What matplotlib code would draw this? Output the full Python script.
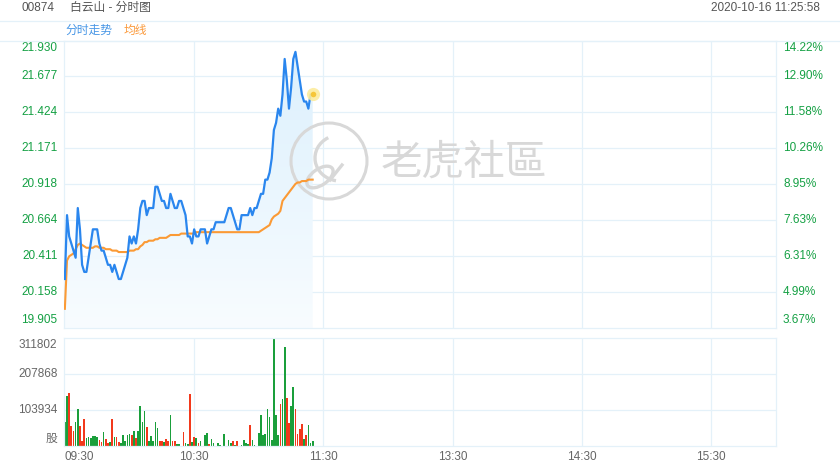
import matplotlib
matplotlib.use("Agg")
import matplotlib.pyplot as plt
import numpy as np
from matplotlib.lines import Line2D
from matplotlib.patches import Circle, Arc, Ellipse
from matplotlib.colors import LinearSegmentedColormap
from matplotlib import transforms

plt.rcParams['font.family'] = ['Liberation Sans', 'Noto Sans CJK SC', 'DejaVu Sans']

# header / labels
code = "00874"
title = "白云山 - 分时图"
stamp = "2020-10-16 11:25:58"
legend_items = ["分时走势", "均线"]

# price axis levels and labels
price_levels = [19.905, 20.158, 20.411, 20.664, 20.918, 21.171, 21.424, 21.677, 21.930]
price_labels = ["19.905", "20.158", "20.411", "20.664", "20.918", "21.171", "21.424", "21.677", "21.930"]
pct_labels = ["3.67%", "4.99%", "6.31%", "7.63%", "8.95%", "10.26%", "11.58%", "12.90%", "14.22%"]

vol_levels = [0, 103934, 207868, 311802]
vol_labels = ["股", "103934", "207868", "311802"]

time_ticks = [0, 60, 120, 180, 240, 300]
time_labels = ["09:30", "10:30", "11:30", "13:30", "14:30", "15:30"]
n_minutes = 330

# minute prices 09:30 .. 11:25
price = [20.25, 20.70, 20.55, 20.50, 20.45, 20.40, 20.75, 20.60, 20.35, 20.30,
         20.30, 20.40, 20.50, 20.60, 20.60, 20.60, 20.50, 20.45, 20.45, 20.40,
         20.35, 20.35, 20.30, 20.35, 20.30, 20.25, 20.25, 20.30, 20.35, 20.40,
         20.55, 20.50, 20.55, 20.50, 20.60, 20.75, 20.80, 20.80, 20.70, 20.75,
         20.75, 20.75, 20.90, 20.90, 20.85, 20.80, 20.80, 20.75, 20.75, 20.85,
         20.80, 20.75, 20.75, 20.80, 20.80, 20.75, 20.70, 20.55, 20.55, 20.50,
         20.60, 20.55, 20.55, 20.60, 20.60, 20.60, 20.50, 20.55, 20.60, 20.60,
         20.65, 20.65, 20.65, 20.65, 20.65, 20.70, 20.75, 20.75, 20.70, 20.65,
         20.60, 20.60, 20.70, 20.70, 20.70, 20.70, 20.75, 20.70, 20.75, 20.75,
         20.80, 20.85, 20.85, 20.95, 20.95, 21.00, 21.10, 21.30, 21.35, 21.45,
         21.40, 21.55, 21.80, 21.65, 21.45, 21.60, 21.80, 21.85, 21.75, 21.65,
         21.55, 21.50, 21.50, 21.45, 21.55, 21.55]

avg_price = [20.04, 20.38, 20.41, 20.42, 20.43, 20.46, 20.49, 20.50, 20.49, 20.48,
             20.47, 20.47, 20.47, 20.47, 20.48, 20.48, 20.47, 20.47, 20.47, 20.46,
             20.46, 20.46, 20.45, 20.45, 20.45, 20.44, 20.44, 20.44, 20.44, 20.44,
             20.45, 20.45, 20.45, 20.46, 20.46, 20.48, 20.49, 20.51, 20.51, 20.52,
             20.52, 20.52, 20.53, 20.53, 20.54, 20.54, 20.54, 20.54, 20.55, 20.56,
             20.56, 20.56, 20.56, 20.56, 20.57, 20.57, 20.57, 20.57, 20.57, 20.57,
             20.57, 20.58, 20.58, 20.58, 20.58, 20.58, 20.58, 20.58, 20.58, 20.58,
             20.58, 20.58, 20.58, 20.58, 20.58, 20.58, 20.58, 20.58, 20.58, 20.58,
             20.58, 20.58, 20.58, 20.58, 20.58, 20.58, 20.58, 20.58, 20.58, 20.58,
             20.58, 20.59, 20.60, 20.61, 20.62, 20.63, 20.67, 20.69, 20.70, 20.71,
             20.73, 20.80, 20.82, 20.84, 20.86, 20.88, 20.90, 20.92, 20.93, 20.93,
             20.94, 20.94, 20.94, 20.95, 20.95, 20.95]

volume = [68000, 144000, 152000, 58000, 42000, 68000, 106000, 58000, 15000, 77000,
          24000, 27000, 22000, 29000, 30000, 27000, 17000, 12500, 41000, 19000,
          10000, 11500, 77000, 27000, 25000, 12500, 9000, 32000, 14000, 32000,
          35000, 31000, 42000, 24000, 42000, 116000, 70000, 101000, 54000, 15000,
          29000, 15000, 70000, 51000, 15000, 15000, 11500, 19000, 15000, 89000,
          14000, 14000, 6000, 6000, 0, 39000, 10000, 5000, 150000, 11600,
          25000, 23000, 7700, 13500, 0, 31000, 37700, 5800, 21000, 8700,
          0, 8700, 2900, 0, 35800, 0, 18400, 8700, 13500, 3900,
          13500, 0, 2000, 18400, 8700, 5800, 60000, 18400, 3900, 0,
          37700, 89000, 32000, 35000, 106500, 83000, 18400, 311802, 89000, 32000,
          121000, 135000, 285000, 139000, 66000, 115000, 171000, 108000, 36000, 48000,
          64000, 21000, 31000, 62000, 8700, 15500]

# G = up (green), R = down (red)
vol_side = ("GGRRRGGRRR" "GGGGGGRRGR" "RGRGRRGGGG" "GRGRGGGGRG" "GGGGRRGRRG"
            "RRGGGRGGRG" "RGRGGGGRGG" "GGGGGGGGRG" "RGGGGGRGGG" "GGGGGGGGGG"
            "RGGRRGGRRR" "RGRGGG")

W, H = 840, 470
fig = plt.figure(figsize=(W / 100, H / 100), dpi=100)
fig.patch.set_facecolor("white")


def fx(px):
    return px / W


def fy(py):
    return 1 - py / H


grid_c = "#e4f1f9"
green_txt = "#14a043"
gray_txt = "#666666"

ax = fig.add_axes([fx(64), fy(328), fx(776) - fx(64), fy(40.5) - fy(328)])
axv = fig.add_axes([fx(64), fy(446), fx(776) - fx(64), fy(338) - fy(446)])

for a in (ax, axv):
    a.set_xlim(-0.4, n_minutes)
    a.set_xticks([])
    a.set_yticks([])
    for s in a.spines.values():
        s.set_color(grid_c)
        s.set_linewidth(0.9)
    for t in time_ticks[1:]:
        a.axvline(t, color=grid_c, lw=0.9, zorder=0)

ax.set_ylim(price_levels[0], price_levels[-1])
axv.set_ylim(vol_levels[0], vol_levels[-1])
for lv in price_levels[1:-1]:
    ax.axhline(lv, color=grid_c, lw=0.9, zorder=0)
for lv in vol_levels[1:-1]:
    axv.axhline(lv, color=grid_c, lw=0.9, zorder=0)

x = np.arange(len(price))

# gradient fill under the price line
poly = ax.fill_between(x, price, price_levels[0], color="none", lw=0)
cmap = LinearSegmentedColormap.from_list("fill", ["#f8fcff", "#dcf0fd"])
grad = np.linspace(0, 1, 256).reshape(-1, 1)
im = ax.imshow(grad, cmap=cmap, aspect="auto", origin="lower",
               extent=[0, len(price) - 1, price_levels[0], max(price)], zorder=1)
im.set_clip_path(poly.get_paths()[0], transform=ax.transData)
ax.set_xlim(-0.4, n_minutes)
ax.set_ylim(price_levels[0], price_levels[-1])

# watermark
wm = "#d8d8d8"
dt = fig.dpi_scale_trans
ax.add_patch(Circle((3.29, 3.09), 0.38, transform=dt, fill=False,
                    ec=wm, lw=2.2, clip_on=False, zorder=1.5))
ax.add_patch(Arc((3.40, 3.12), 0.50, 0.46, theta1=120, theta2=260, transform=dt,
                 ec=wm, lw=2.4, clip_on=False, zorder=1.5))
ax.add_patch(Ellipse((3.20, 2.93), 0.30, 0.16, angle=35, transform=dt, fill=False,
                     ec=wm, lw=2.4, clip_on=False, zorder=1.5))
ax.add_line(Line2D([3.30, 3.42], [2.90, 3.05], transform=dt, color=wm, lw=2.4, zorder=1.5))
ax.text(4.64, 3.07, "老虎社區", transform=dt, fontsize=30, color=wm,
        family=["Noto Sans CJK TC"], ha="center", va="center", zorder=1.5, clip_on=False)

ax.plot(x, avg_price, color="#fb9a35", lw=1.5, zorder=3, solid_joinstyle="round")
ax.plot(x, price, color="#2a86ee", lw=1.6, zorder=4, solid_joinstyle="round")
ax.scatter([x[-1]], [price[-1]], s=90, color="#fcec9c", alpha=0.9, zorder=5, lw=0)
ax.scatter([x[-1]], [price[-1]], s=16, color="#f6c638", zorder=6, lw=0)

# volume bars
bar_colors = ["#1a9f3b" if c == "G" else "#f2391c" for c in vol_side]
axv.bar(x, volume, width=0.78, color=bar_colors, lw=0, zorder=2)

# axis labels
lt = transforms.blended_transform_factory(fig.transFigure, ax.transData)
n = len(price_levels)
for i, (lv, a, b) in enumerate(zip(price_levels, price_labels, pct_labels)):
    va = "bottom" if i == 0 else ("top" if i == n - 1 else "center")
    off = 0.012 if i == 0 else (-0.012 if i == n - 1 else 0)
    ax.text(fx(57.5), lv + off, a, transform=lt, ha="right", va=va, fontsize=8.5, color=green_txt)
    ax.text(fx(783), lv + off, b, transform=lt, ha="left", va=va, fontsize=8.5, color=green_txt)

vt = transforms.blended_transform_factory(fig.transFigure, axv.transData)
for i, (lv, lab) in enumerate(zip(vol_levels, vol_labels)):
    va = "bottom" if i == 0 else ("top" if i == len(vol_levels) - 1 else "center")
    off = 3000 if i == 0 else (-3000 if i == len(vol_levels) - 1 else 0)
    axv.text(fx(57.5), lv + off, lab, transform=vt, ha="right", va=va, fontsize=8.5, color=gray_txt)

tt = transforms.blended_transform_factory(axv.transData, fig.transFigure)
for t, lab in zip(time_ticks, time_labels):
    ha = "left" if t == 0 else "center"
    axv.text(t, fy(457), lab, transform=tt, ha=ha, va="center", fontsize=8.5, color=gray_txt)

# header
fig.text(fx(21), fy(8), code, ha="left", va="center", fontsize=8.5, color="#555555")
fig.text(fx(70), fy(8), title, ha="left", va="center", fontsize=8.5, color="#555555")
fig.text(fx(820), fy(8), stamp, ha="right", va="center", fontsize=8.5, color="#555555")
fig.text(fx(65), fy(30.5), legend_items[0], ha="left", va="center", fontsize=8.5, color="#4796e6")
fig.text(fx(124), fy(30.5), legend_items[1], ha="left", va="center", fontsize=8.5, color="#fb9a3c")
for yy in (20.5, 40.5):
    fig.add_artist(Line2D([0, 1], [fy(yy), fy(yy)], transform=fig.transFigure, color=grid_c, lw=0.9))

fig.savefig("out.png", dpi=100)
